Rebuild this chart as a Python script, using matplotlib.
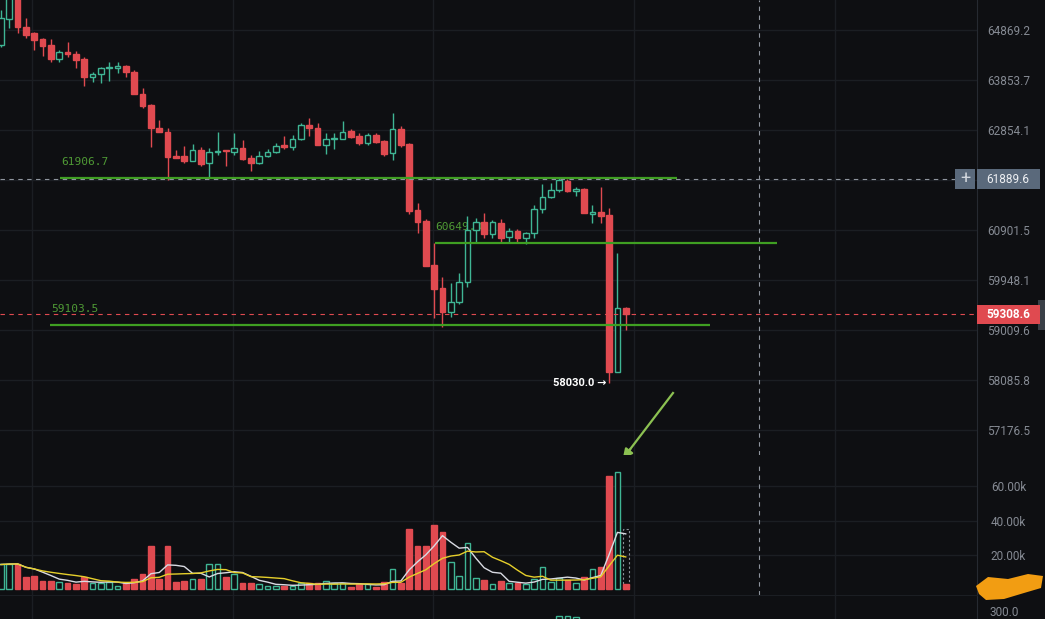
import numpy as np
import pandas as pd
import matplotlib
matplotlib.use("Agg")
import matplotlib.pyplot as plt
from matplotlib.patches import Rectangle, Polygon
from matplotlib.ticker import NullLocator, FixedLocator, FixedFormatter

plt.rcParams['font.family'] = ['Roboto', 'DejaVu Sans']

# ---------------- data (1h candles, BTC)
opens = [64565, 65096, 65590, 64931, 64808, 64686, 64565, 64280, 64422, 64382,
         64280, 63915, 63976, 64097, 64097, 64138, 64016, 63574, 63354, 62894,
         62815, 62343, 62343, 62245, 62461, 62205, 62422, 62461, 62422, 62500,
         62304, 62205, 62343, 62422, 62559, 62520, 62677, 62954, 62894, 62559,
         62677, 62677, 62834, 62736, 62598, 62756, 62638, 62402, 62874, 62579,
         61289, 61076, 60234, 59798, 59347, 59535, 59911, 60902, 61057, 60825,
         61037, 60768, 60882, 60749, 60844, 61309, 61541, 61677, 61852, 61658,
         61696, 61212, 61250, 61192, 58233, 59422]
highs = [65281, 65796, 65693, 65116, 64829, 64707, 64686, 64463, 64625, 64443,
         64321, 64016, 64117, 64219, 64219, 64158, 64057, 63694, 63374, 63054,
         62894, 62461, 62539, 62579, 62520, 62500, 62815, 62461, 62795, 62658,
         62363, 62441, 62480, 62598, 62736, 62756, 62994, 63094, 62994, 62795,
         62795, 63034, 62874, 62795, 62795, 62795, 62658, 63194, 62934, 62598,
         61425, 61115, 60654, 60005, 59892, 60081, 61173, 61134, 61231, 61095,
         61115, 60940, 60921, 60863, 61386, 61793, 61813, 61929, 61890, 61735,
         61716, 61386, 61735, 61328, 60463, 59441]
lows = [64524, 64910, 64808, 64707, 64463, 64341, 64219, 64219, 64321, 64097,
        63734, 63814, 63794, 63834, 63996, 63915, 63574, 63294, 62520, 62815,
        61871, 62304, 62205, 62245, 62146, 61910, 62363, 62146, 62363, 62264,
        62048, 62186, 62323, 62402, 62480, 62461, 62658, 62736, 62559, 62382,
        62480, 62677, 62697, 62559, 62559, 62598, 62343, 62264, 62520, 61212,
        60844, 60215, 59235, 59066, 59254, 59498, 59817, 60654, 60749, 60749,
        60654, 60673, 60654, 60635, 60749, 61231, 61522, 61638, 61638, 61561,
        61231, 61037, 61037, 58030, 58233, 59010]
closes = [65116, 65693, 64931, 64768, 64666, 64544, 64280, 64422, 64382, 64260,
          63915, 63976, 64097, 64117, 64138, 64016, 63574, 63334, 62894, 62815,
          62323, 62304, 62245, 62461, 62186, 62422, 62441, 62441, 62500, 62284,
          62205, 62343, 62422, 62539, 62520, 62677, 62954, 62894, 62559, 62677,
          62697, 62815, 62716, 62598, 62756, 62618, 62382, 62874, 62559, 61270,
          61057, 60215, 59779, 59347, 59535, 59911, 60902, 61057, 60825, 61057,
          60749, 60882, 60749, 60844, 61309, 61541, 61677, 61871, 61658, 61696,
          61231, 61250, 61173, 58233, 59422, 59308.6]
# volume in thousands
volumes = [14.5, 15, 15, 7, 8, 5.2, 5.2, 4.6, 3.5, 2.9,
           7.5, 3.5, 3.5, 4.6, 2.3, 3.5, 5.8, 8.7, 25.5, 5.8,
           25.5, 4.6, 5.2, 5.8, 5.8, 15, 14.5, 7.5, 8.7, 3.5,
           4, 2.9, 2.3, 2.3, 2.3, 2.3, 3.5, 3.5, 3.5, 4.8,
           3.5, 4, 1.7, 2.9, 2.9, 1.7, 4.6, 11.6, 4, 35,
           25, 25, 37.5, 33.6, 16, 7.8, 27, 6.7, 5.5, 2.9,
           5.2, 3.5, 4, 2.9, 6, 13, 4.6, 6.7, 5.5, 3.5,
           7.2, 11.6, 12.8, 66, 68, 2.9]
last_vol_estimate = 35

price_ticks = [64869.2, 63853.7, 62854.1, 61870.3, 60901.5, 59948.1, 59009.6, 58085.8, 57176.5]
price_labels = ['64869.2', '63853.7', '62854.1', '', '60901.5', '59948.1', '59009.6', '58085.8', '57176.5']
vol_ticks = [20, 40, 60]
vol_labels = ['20.00k', '40.00k', '60.00k']

levels = [61906.7, 60649.0, 59103.5]          # drawn horizontal lines
level_span = [(7.1, 81.2), (52.1, 93.2), (5.9, 85.1)]
cross_price = 61889.6
last_price = 59308.6
low_price = 58030.0
low_idx = 73

# ---------------- style
W, H = 1045, 619
BG = '#0e0f12'
GRID = '#1b1e23'
UP = '#3fb594'
DOWN = '#e04a50'
TXT = '#858a93'
LVL = '#3f9f22'
LVL_TXT = '#4f9a35'
BOX = '#5a697b'
STEP, X0 = 8.33, 1.0


def frac(x0, y0, x1, y1):
    return [x0 / W, 1 - y1 / H, (x1 - x0) / W, (y1 - y0) / H]


fig = plt.figure(figsize=(W / 100, H / 100), dpi=100, facecolor=BG)
ax = fig.add_axes(frac(0, 0, 977, 455))
axv = fig.add_axes(frac(0, 455, 977, 595))
axb = fig.add_axes(frac(0, 595, 977, 619))

idx = np.arange(len(opens))
o, h, l, c = map(np.array, (opens, highs, lows, closes))
up = c >= o
col = np.where(up, UP, DOWN)
face = np.where(up, BG, DOWN)

xlim = ((0 - X0) / STEP, (977 - X0) / STEP)
vgrid = [3.72 + 24.1 * k for k in range(5)]

for a in (ax, axv, axb):
    a.set_facecolor(BG)
    a.set_xlim(*xlim)
    a.set_xticks([])
    for s in ('top', 'left', 'bottom'):
        a.spines[s].set_visible(False)
    a.spines['right'].set_color('#262a31')
    for xv in vgrid:
        a.axvline(xv, color=GRID, lw=1, zorder=0)

# ---------------- price panel
ax.set_yscale('log')
ax.set_ylim(56728.6, 65485.7)
ax.yaxis.set_minor_locator(NullLocator())
ax.yaxis.set_major_locator(FixedLocator(price_ticks))
ax.yaxis.set_major_formatter(FixedFormatter(price_labels))
ax.yaxis.tick_right()
ax.tick_params(axis='y', length=0, pad=7.5, labelcolor=TXT, labelsize=8.5)
for p in price_ticks:
    ax.axhline(p, color=GRID, lw=1, zorder=0)

ax.vlines(idx, l, h, colors=col, lw=1, zorder=3)
ax.bar(idx, np.maximum(np.abs(c - o), 6), bottom=np.minimum(o, c), width=0.68,
       color=face, edgecolor=col, linewidth=1, zorder=4)

for lv, (xa, xb) in zip(levels, level_span):
    ax.hlines(lv, xa, xb, color=LVL, lw=1.6, zorder=5)
    ax.annotate(f'{lv:.1f}', (xa, lv), xytext=(0.5, 8), textcoords='offset points',
                color=LVL_TXT, fontsize=8, family='DejaVu Sans Mono', va='bottom', zorder=2)

ax.axhline(cross_price, xmin=0, xmax=955 / 977, color='#8f959e', lw=0.8, ls=(0, (4, 4)), zorder=6)
ax.axhline(last_price, color=DOWN, lw=0.8, ls=(0, (4, 4)), zorder=6)
ax.axvline((759 - X0) / STEP, color='#8f959e', lw=0.8, ls=(0, (4, 4)), zorder=6)
axv.axvline((759 - X0) / STEP, ymax=0.92, color='#8f959e', lw=0.8, ls=(0, (4, 4)), zorder=6)

ax.annotate(f'{low_price:.1f} \u2192', (low_idx, low_price), xytext=(-2, 0),
            textcoords='offset points', ha='right', va='center',
            color='white', fontsize=8, fontweight='bold', zorder=7)


def ypix(a, v):
    return H - a.transData.transform((0, v))[1]


yc = ypix(ax, cross_price)
fig.add_artist(Rectangle((955 / W, 1 - (yc + 10) / H), 20 / W, 20 / H, transform=fig.transFigure,
                         fc=BOX, ec='none'))
fig.text(965 / W, 1 - yc / H, '+', color='#d0d5dc', fontsize=13, ha='center', va='center')
fig.add_artist(Rectangle((977 / W, 1 - (yc + 10) / H), 63 / W, 20 / H, transform=fig.transFigure,
                         fc=BOX, ec='none'))
fig.text(986 / W, 1 - yc / H, f'{cross_price:.1f}', color='#eef0f3', fontsize=8.5, va='center')

yl = ypix(ax, last_price)
fig.add_artist(Rectangle((977 / W, 1 - (yl + 9.5) / H), 63 / W, 19 / H, transform=fig.transFigure,
                         fc=DOWN, ec='none', zorder=5))
fig.text(986 / W, 1 - yl / H, f'{last_price:.1f}', color='white', fontsize=8.5,
         fontweight='bold', va='center', zorder=6)
fig.add_artist(Rectangle((1038 / W, 1 - 330 / H), 7 / W, 30 / H, transform=fig.transFigure,
                         fc='#3a3f47', ec='none'))

# arrow pointing at the volume spike
fig.add_artist(plt.Line2D([673 / W, 628 / W], [1 - 393 / H, 1 - 452 / H], color='#8cc152', lw=1.6))
ax.annotate('', xy=(621 / W, 1 - 461 / H), xytext=(632 / W, 1 - 447 / H), xycoords='figure fraction',
            arrowprops=dict(arrowstyle='-|>', color='#8cc152', lw=1.6, mutation_scale=14))

# ---------------- volume panel
v = np.array(volumes)
axv.set_ylim(-3.19, 78.0)
axv.yaxis.tick_right()
axv.set_yticks(vol_ticks)
axv.set_yticklabels(vol_labels)
axv.tick_params(axis='y', length=0, pad=10, labelcolor=TXT, labelsize=8.5)
for t in vol_ticks:
    axv.axhline(t, color=GRID, lw=1, zorder=0)
axv.bar(idx, v, width=0.68, color=face, edgecolor=col, linewidth=1, zorder=3)
axv.bar(idx[-1], last_vol_estimate, width=0.68, fill=False, edgecolor='#8a8f98',
        linewidth=0.8, linestyle=(0, (2, 2)), zorder=2)
ma5 = pd.Series(v).rolling(5, min_periods=1).mean()
ma10 = pd.Series(v).rolling(10, min_periods=1).mean()
axv.plot(idx, ma5, color='#d9dbe3', lw=1, zorder=5)
axv.plot(idx, ma10, color='#e6cf2b', lw=1, zorder=5)

# ---------------- bottom (cut off) panel
axb.set_ylim(0, 24)
axb.set_yticks([])
axb.spines['top'].set_visible(True)
axb.spines['top'].set_color(GRID)
axb.bar([67, 68, 69], [5, 5.5, 4.5], bottom=-2, width=0.68, fill=False, edgecolor=UP, lw=1)
fig.text(990 / W, 1 - 612 / H, '300.0', color=TXT, fontsize=8.5, va='center')

# orange smear at bottom right
fig.add_artist(Polygon([(976 / W, 1 - 586 / H), (988 / W, 1 - 577 / H), (1008 / W, 1 - 579 / H),
                        (1028 / W, 1 - 574 / H), (1043 / W, 1 - 576 / H), (1041 / W, 1 - 588 / H),
                        (1024 / W, 1 - 593 / H), (1004 / W, 1 - 599 / H), (986 / W, 1 - 600 / H),
                        (979 / W, 1 - 594 / H)], closed=True, transform=fig.transFigure,
                       fc='#f29d12', ec='none'))

fig.savefig('out.png', dpi=100, facecolor=BG)
